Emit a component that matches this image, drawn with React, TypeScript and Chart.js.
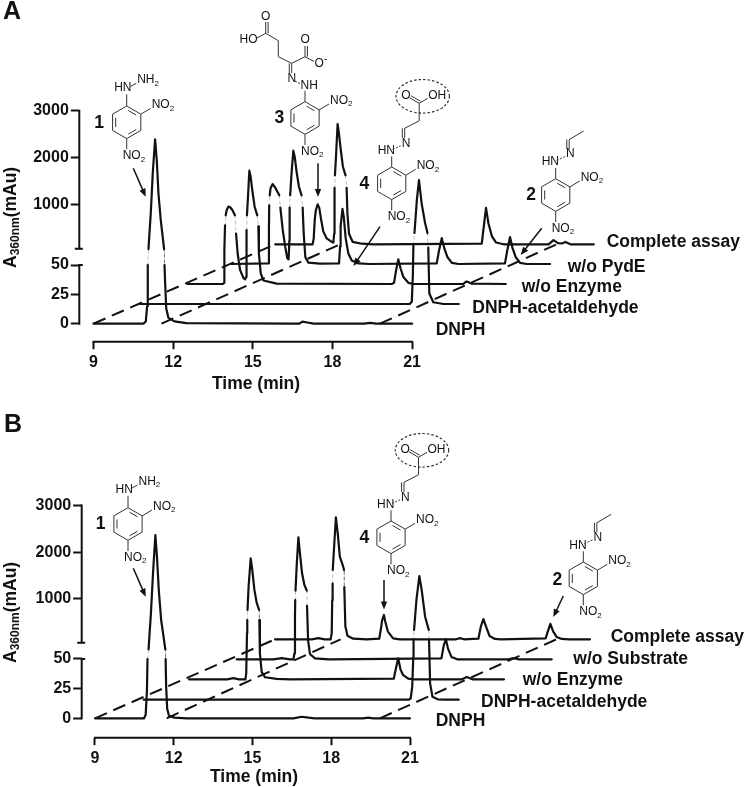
import React, { useEffect, useRef } from "react";
import { Chart, registerables } from "chart.js";

Chart.register(...registerables);

const FONT = '"Liberation Sans", Arial, sans-serif';
const INK = "#111111";

// ---------- tick labels ----------
const xTicks = [9, 12, 15, 18, 21];
const yTickValues = [0, 25, 50, 1000, 2000, 3000];

// ---------- Panel A: retention time (min) / absorbance (mAu) ----------
const aNames = ["DNPH", "DNPH-acetaldehyde", "w/o Enzyme", "w/o PydE", "Complete assay"];

const aDnphTime = [9, 10.88, 10.97, 11.02, 11.044, 11.07, 11.157, 11.232, 11.32, 11.383, 11.446, 11.533, 11.66, 11.675, 11.7, 11.74, 11.82, 12.05, 12.5, 16.5, 16.75, 16.87, 17.05, 17.3, 19.2, 19.42, 19.65, 21];
const aDnphValue = [0, 0, 2, 15, 50, 55, 817, 1668, 2391, 1951, 1243, 674, 55, 50, 34, 13, 5, 2, 0.5, 0, 0, 1.8, 1, 0, 0, 0.7, 0, 0];

const aAcetTime = [9, 19.15, 19.23, 19.27, 19.29, 19.33, 19.42, 19.5, 19.6, 19.73, 19.82, 19.85, 19.89, 20.04, 20.42, 21];
const aAcetValue = [0, 0, 2, 25, 50, 57, 760, 1185, 689, 270, 57, 48, 9, 1.5, 0, 0];

const aEnzTime = [9, 10.34, 10.39, 10.4, 10.425, 10.45, 10.49, 10.55, 10.61, 10.7, 10.8, 10.84, 10.9, 10.99, 11.12, 11.18, 11.22, 11.23, 11.24, 11.25, 11.29, 11.34, 11.39, 11.45, 11.54, 11.64, 11.68, 11.7, 11.77, 11.87, 12.37, 16.7, 16.79, 16.87, 16.95, 17.04, 17.14, 17.33, 17.52, 19.4, 19.47, 19.53, 19.6, 19.7, 21];
const aEnzValue = [0, 0, 1, 29, 50, 51, 164, 234, 228, 164, 51, 43, 26, 12, 5, 4, 6, 26, 46, 51, 447, 1000, 872, 589, 234, 51, 49, 26, 9, 3, 0.3, 0, 1, 12, 21, 13, 6, 1, 0, 0, 1.5, 2.2, 1.5, 0.3, 0];

const aPydeTime = [9, 10.39, 10.41, 10.42, 10.44, 10.47, 10.55, 10.64, 10.73, 10.8, 10.84, 10.93, 11.02, 11.1, 11.15, 11.18, 11.19, 11.21, 11.27, 11.33, 11.38, 11.46, 11.54, 11.64, 11.68, 11.72, 11.78, 11.89, 12.33, 13.05, 13.09, 13.11, 13.18, 13.23, 13.3, 13.4, 13.53, 13.78, 14.2, 16.73, 16.82, 16.92, 17.02, 17.13, 17.3, 17.55, 19.3, 19.39, 19.49, 19.58, 19.7, 19.87, 20.12, 21];
const aPydeValue = [0, 0.5, 30, 50, 51, 200, 291, 221, 128, 51, 48, 29, 15, 5, 4, 20, 48, 51, 589, 1000, 872, 519, 234, 51, 48, 26, 6, 1.2, 0.3, 0.5, 15, 32, 47, 40, 22, 9, 3, 0.5, 0, 0.5, 12, 22, 13, 6, 1, 0, 0.5, 12, 23, 14, 6, 1, 0, 0];

const aFullTime = [9, 10.41, 10.45, 10.49, 10.53, 10.6, 10.66, 10.73, 10.81, 10.94, 11.13, 11.19, 11.22, 11.23, 11.24, 11.25, 11.29, 11.35, 11.4, 11.47, 11.55, 11.65, 11.69, 11.72, 11.78, 11.92, 12.26, 12.7, 16.78, 16.84, 16.94, 17.03, 17.16, 17.32, 17.6, 19.3, 19.48, 19.65, 19.8, 19.93, 20.12, 21];
const aFullValue = [0, 0, 5, 21, 29, 34, 31, 21, 11, 5, 2, 1.5, 9, 32, 48, 51, 447, 1143, 944, 590, 234, 51, 48, 26, 9, 2, 0.5, 0, 0.5, 12, 31, 18, 7, 1.5, 0, 0, 3.5, 1, 0.7, 2, 0, 0];

const aDashTimes = [[9, 9], [11.56, 11.45], [19.79, 19.6]];

// ---------- Panel B ----------
const bNames = ["DNPH", "DNPH-acetaldehyde", "w/o Enzyme", "w/o Substrate", "Complete assay"];

const bDnphTime = [9, 10.87, 10.93, 10.98, 11.0, 11.04, 11.13, 11.21, 11.3, 11.36, 11.43, 11.52, 11.68, 11.69, 11.71, 11.75, 11.82, 12.03, 12.5, 16.56, 16.87, 17.13, 17.38, 19.2, 19.41, 19.6, 21];
const bDnphValue = [0, 0, 3, 24, 50, 51, 822, 1679, 2499, 2035, 1322, 679, 51, 50, 27, 8, 2, 0.6, 0, 0, 1.3, 0.5, 0, 0, 0.5, 0, 0];

const bAcetTime = [9, 19.1, 19.17, 19.23, 19.27, 19.28, 19.3, 19.39, 19.5, 19.59, 19.72, 19.86, 19.87, 19.91, 20.0, 20.2, 20.5, 21];
const bAcetValue = [0, 0, 1, 11, 36, 50, 51, 692, 1205, 906, 334, 51, 50, 14, 2.5, 0.3, 0, 0];

const bEnzTime = [9, 10.45, 10.69, 10.9, 11.15, 11.18, 11.21, 11.22, 11.23, 11.27, 11.35, 11.41, 11.49, 11.58, 11.67, 11.68, 11.7, 11.77, 11.9, 12.34, 12.85, 16.8, 16.89, 16.97, 17.06, 17.16, 17.35, 17.6, 19.4, 19.58, 19.8, 21];
const bEnzValue = [0, 0, 1, 0, 0, 5, 39, 50, 51, 548, 1156, 913, 485, 200, 51, 50, 22, 6, 1.7, 0.3, 0, 0.5, 10, 17.7, 8, 3.5, 0.5, 0, 0, 2, 0, 0];

const bSubTime = [9, 10.4, 10.71, 11.03, 11.16, 11.2, 11.22, 11.23, 11.24, 11.29, 11.35, 11.41, 11.49, 11.58, 11.67, 11.68, 11.72, 11.79, 11.98, 12.5, 16.8, 16.89, 16.97, 17.05, 17.18, 17.4, 19.35, 19.54, 19.75, 21];
const bSubValue = [0, 0, 1, 0, 0, 5, 36, 50, 51, 636, 1193, 850, 422, 171, 51, 45, 16, 4.5, 0.8, 0, 0.8, 12, 16.9, 9, 2, 0, 0, 1, 0, 0];

const bFullTime = [9, 10.4, 10.65, 10.9, 11.12, 11.16, 11.18, 11.195, 11.2, 11.26, 11.32, 11.39, 11.47, 11.58, 11.63, 11.64, 11.68, 11.76, 11.98, 12.5, 12.97, 13.03, 13.08, 13.15, 13.2, 13.3, 13.5, 13.75, 15.9, 16.05, 16.2, 16.75, 16.84, 16.94, 17.04, 17.17, 17.38, 17.6, 19.31, 19.39, 19.49, 19.6, 19.73, 19.92, 20.2, 21];
const bFullValue = [0, 0, 1, 0, 0, 5, 33, 47, 51, 621, 1178, 835, 334, 156, 51, 44, 11, 3, 0.5, 0, 0.5, 8, 16, 20.5, 15, 6.5, 0.8, 0, 0, 1, 0, 0.5, 10.7, 17, 10.7, 2.8, 0.3, 0, 0.8, 6.5, 13, 6.5, 2, 0.3, 0, 0];

const bDashTimes = [[9, 9], [11.73, 11.5], [19.85, 19.72]];

// ---------- helpers ----------
type Seg = [number, number];
type Layout = {
  top: number; height: number; axisX: number; zeroY: number; axisY: number;
  x9: number; pxPerMin: number; lowerK: number; upperBase: number; upperK: number;
  dx: number[]; lowerShift: number[]; upperShift: number[];
};

const layoutA: Layout = {
  top: 0, height: 393, axisX: 79.3, zeroY: 323.7, axisY: 341.7, x9: 93.5, pxPerMin: 26.55,
  lowerK: 1.174, upperBase: 72, upperK: 0.047,
  dx: [0, 46.7, 93.7, 138, 181.7], lowerShift: [0, 19.7, 39.7, 59.7, 79.4], upperShift: [0, 16, 34, 54, 74],
};
const layoutB: Layout = {
  top: 393, height: 394, axisX: 81.7, zeroY: 718.3, axisY: 737.7, x9: 95, pxPerMin: 26.25,
  lowerK: 1.186, upperBase: 72.6, upperK: 0.0467,
  dx: [0, 48.7, 94, 141.7, 180], lowerShift: [0, 18.6, 39, 59, 79], upperShift: [-6, 13.4, 33.4, 52.7, 73.4],
};

function traceDataset(L: Layout, i: number, label: string, times: number[], values: number[]) {
  const pts = times.map((t, k) => {
    const v = values[k];
    const upper = v > 50;
    return {
      x: t + L.dx[i] / L.pxPerMin,
      y: upper ? L.upperBase + L.upperK * v + L.upperShift[i] : v * L.lowerK + L.lowerShift[i],
      upper,
    };
  });
  const crossing = (c: any) => pts[c.p0DataIndex].upper !== pts[c.p1DataIndex].upper;
  return {
    label,
    data: pts,
    borderColor: INK,
    borderWidth: 2.2,
    pointRadius: 0,
    tension: 0,
    borderCapStyle: "round",
    borderJoinStyle: "round",
    segment: {
      borderColor: (c: any) => (crossing(c) ? "rgba(0,0,0,0.25)" : undefined),
      borderWidth: (c: any) => (crossing(c) ? 1 : undefined),
      borderDash: (c: any) => (crossing(c) ? [3, 3] : undefined),
    },
  };
}

function dashDataset(L: Layout, pair: number[], k: number) {
  return {
    label: "guide " + k,
    data: [
      { x: pair[0] + L.dx[0] / L.pxPerMin, y: L.lowerShift[0] },
      { x: pair[1] + L.dx[4] / L.pxPerMin, y: L.lowerShift[4] },
    ],
    borderColor: INK,
    borderWidth: 2,
    borderDash: [13, 7],
    pointRadius: 0,
    tension: 0,
  };
}

function text(ctx: any, s: string, x: number, y: number, font: string, align: any = "left") {
  ctx.font = font;
  ctx.textAlign = align;
  ctx.textBaseline = "middle";
  ctx.fillStyle = INK;
  ctx.fillText(s, x, y);
}

function atom(ctx: any, s: string, sub: string, x: number, y: number) {
  const f = `12px ${FONT}`;
  text(ctx, s, x, y, f);
  const w = ctx.measureText(s).width;
  if (sub) text(ctx, sub, x + w, y + 3.5, `8px ${FONT}`);
}

function bond(ctx: any, a: Seg, b: Seg) {
  ctx.beginPath();
  ctx.moveTo(a[0], a[1]);
  ctx.lineTo(b[0], b[1]);
  ctx.stroke();
}

function ring(ctx: any, cx: number, cy: number) {
  const r = 16.3;
  const v: Seg[] = [];
  for (let k = 0; k < 6; k++) {
    const a = -Math.PI / 2 + (k * Math.PI) / 3;
    v.push([cx + r * Math.cos(a), cy + r * Math.sin(a)]);
  }
  ctx.beginPath();
  v.forEach((p, k) => (k ? ctx.lineTo(p[0], p[1]) : ctx.moveTo(p[0], p[1])));
  ctx.closePath();
  ctx.stroke();
  [[0, 1], [2, 3], [4, 5]].forEach(([m, n]) => {
    const q = (p: Seg, o: Seg): Seg => {
      const s = 0.78;
      const e = [p[0] + (o[0] - p[0]) * 0.14, p[1] + (o[1] - p[1]) * 0.14];
      return [cx + (e[0] - cx) * s, cy + (e[1] - cy) * s];
    };
    bond(ctx, q(v[m], v[n]), q(v[n], v[m]));
  });
}

function dinitro(ctx: any, cx: number, cy: number) {
  ring(ctx, cx, cy);
  bond(ctx, [cx + 14.1, cy - 8.1], [cx + 24, cy - 14]);
  atom(ctx, "NO", "2", cx + 25, cy - 17.5);
  bond(ctx, [cx, cy + 16.3], [cx, cy + 27]);
  atom(ctx, "NO", "2", cx - 4, cy + 33.5);
}

function doubleBond(ctx: any, a: Seg, b: Seg, off = 2.4) {
  const dx = b[0] - a[0], dy = b[1] - a[1], l = Math.hypot(dx, dy);
  const nx = (-dy / l) * off, ny = (dx / l) * off;
  bond(ctx, a, b);
  bond(ctx, [a[0] + nx, a[1] + ny], [b[0] + nx, b[1] + ny]);
}

function compound1(ctx: any, cx: number, cy: number) {
  dinitro(ctx, cx, cy);
  bond(ctx, [cx, cy - 16.3], [cx, cy - 28]);
  atom(ctx, "HN", "", cx - 12.5, cy - 34.7);
  bond(ctx, [cx + 4, cy - 36], [cx + 9.5, cy - 39]);
  atom(ctx, "NH", "2", cx + 10.5, cy - 42.5);
}

function compound2(ctx: any, cx: number, cy: number) {
  dinitro(ctx, cx, cy);
  bond(ctx, [cx, cy - 16.3], [cx, cy - 27]);
  atom(ctx, "HN", "", cx - 14, cy - 33);
  ctx.setLineDash([2, 1.5]);
  bond(ctx, [cx + 1, cy - 34.5], [cx + 9.5, cy - 38.5]);
  ctx.setLineDash([]);
  atom(ctx, "N", "", cx + 10.2, cy - 41);
  doubleBond(ctx, [cx + 13.5, cy - 55.5], [cx + 13.5, cy - 46]);
  bond(ctx, [cx + 13.5, cy - 55.5], [cx + 28, cy - 64]);
}

function compound4(ctx: any, cx: number, cy: number) {
  dinitro(ctx, cx, cy);
  bond(ctx, [cx, cy - 16.3], [cx, cy - 27]);
  atom(ctx, "HN", "", cx - 14, cy - 32.5);
  ctx.setLineDash([2, 1.5]);
  bond(ctx, [cx + 1, cy - 34], [cx + 9, cy - 37.5]);
  ctx.setLineDash([]);
  atom(ctx, "N", "", cx + 10, cy - 40);
  doubleBond(ctx, [cx + 13, cy - 55], [cx + 13, cy - 45.5]);
  bond(ctx, [cx + 13, cy - 55], [cx + 27.5, cy - 62.5]);
  bond(ctx, [cx + 27.5, cy - 62.5], [cx + 27.5, cy - 80]);
  doubleBond(ctx, [cx + 27.5, cy - 80], [cx + 18, cy - 85.5]);
  atom(ctx, "O", "", cx + 9.5, cy - 88);
  bond(ctx, [cx + 27.5, cy - 80], [cx + 36, cy - 85]);
  atom(ctx, "OH", "", cx + 36.5, cy - 87.5);
  ctx.save();
  ctx.setLineDash([2.5, 2]);
  ctx.lineWidth = 1.2;
  ctx.beginPath();
  ctx.ellipse(cx + 31, cy - 87, 26.7, 16.8, 0, 0, Math.PI * 2);
  ctx.stroke();
  ctx.restore();
}

function compound3(ctx: any) {
  dinitro(ctx, 305, 118);
  bond(ctx, [305, 101.7], [305, 91]);
  atom(ctx, "NH", "", 300.5, 86);
  ctx.setLineDash([2, 1.5]);
  bond(ctx, [295, 81], [301, 84]);
  ctx.setLineDash([]);
  atom(ctx, "N", "", 287.5, 78.3);
  doubleBond(ctx, [291.7, 63.3], [291.7, 73]);
  bond(ctx, [291.7, 63.3], [278.3, 56.7]);
  bond(ctx, [278.3, 56.7], [278.3, 40.7]);
  bond(ctx, [278.3, 40.7], [265.7, 33.3]);
  doubleBond(ctx, [265.7, 33.3], [265.7, 22]);
  atom(ctx, "O", "", 261, 16.7);
  bond(ctx, [265.7, 33.3], [257, 38]);
  atom(ctx, "HO", "", 239.5, 40);
  bond(ctx, [291.7, 63.3], [305, 56.7]);
  doubleBond(ctx, [305, 56.7], [305, 46]);
  atom(ctx, "O", "", 300.5, 40);
  bond(ctx, [305, 56.7], [314, 61.5]);
  atom(ctx, "O", "", 314.5, 63.3);
  text(ctx, "-", 324, 59, `10px ${FONT}`);
}

function arrow(ctx: any, x0: number, y0: number, x1: number, y1: number) {
  const a = Math.atan2(y1 - y0, x1 - x0);
  ctx.save();
  ctx.strokeStyle = INK;
  ctx.fillStyle = INK;
  ctx.lineWidth = 1.5;
  bond(ctx, [x0, y0], [x1 - 5 * Math.cos(a), y1 - 5 * Math.sin(a)]);
  ctx.beginPath();
  ctx.moveTo(x1, y1);
  ctx.lineTo(x1 - 8 * Math.cos(a) + 3.2 * Math.sin(a), y1 - 8 * Math.sin(a) - 3.2 * Math.cos(a));
  ctx.lineTo(x1 - 8 * Math.cos(a) - 3.2 * Math.sin(a), y1 - 8 * Math.sin(a) + 3.2 * Math.cos(a));
  ctx.closePath();
  ctx.fill();
  ctx.restore();
}

function yTitle(ctx: any, bottomY: number, x: number) {
  ctx.save();
  ctx.translate(x, bottomY);
  ctx.rotate(-Math.PI / 2);
  ctx.font = `bold 17.5px ${FONT}`;
  ctx.textAlign = "left";
  ctx.textBaseline = "alphabetic";
  ctx.fillStyle = INK;
  ctx.fillText("A", 0, 0);
  let w = ctx.measureText("A").width;
  ctx.font = `bold 12px ${FONT}`;
  ctx.fillText("360nm", w, 3.5);
  w += ctx.measureText("360nm").width;
  ctx.font = `bold 17.5px ${FONT}`;
  ctx.fillText("(mAu)", w, 0);
  ctx.restore();
}

function makeChart(canvas: HTMLCanvasElement, L: Layout, datasets: any[], overlay: (ctx: any) => void) {
  const chartW = 745;
  const bottomH = L.top + L.height - L.axisY;
  const uTicks = yTickValues.map((v) => (v <= 50 ? v * L.lowerK : L.upperBase + L.upperK * v));
  const axesPlugin = {
    id: "brokenAxes",
    afterDraw(chart: any) {
      const ctx = chart.ctx;
      const sx = chart.scales.x, sy = chart.scales.y;
      const lx = sx.left;
      ctx.save();
      ctx.strokeStyle = INK;
      ctx.lineWidth = 2;
      ctx.lineCap = "butt";
      const by = chart.chartArea.bottom;
      ctx.beginPath();
      ctx.moveTo(sx.getPixelForValue(xTicks[0]) - 1, by);
      ctx.lineTo(sx.getPixelForValue(xTicks[xTicks.length - 1]) + 1, by);
      const u50 = uTicks[2];
      const uBreak = u50 + 16.3;
      ctx.moveTo(lx, sy.getPixelForValue(0) + 1);
      ctx.lineTo(lx, sy.getPixelForValue(u50) - 1);
      ctx.moveTo(lx, sy.getPixelForValue(uBreak));
      ctx.lineTo(lx, sy.getPixelForValue(uTicks[5]) - 1);
      ctx.moveTo(lx, sy.getPixelForValue(u50));
      ctx.lineTo(lx + 3.5, sy.getPixelForValue(u50));
      ctx.moveTo(lx - 4.5, sy.getPixelForValue(uBreak));
      ctx.lineTo(lx + 3.5, sy.getPixelForValue(uBreak));
      ctx.stroke();
      ctx.restore();
      ctx.save();
      ctx.translate(0, -L.top);
      ctx.strokeStyle = "#333333";
      ctx.lineWidth = 1;
      ctx.lineCap = "butt";
      overlay(ctx);
      ctx.restore();
    },
  };
  return new Chart(canvas, {
    type: "line",
    data: { datasets },
    plugins: [axesPlugin],
    options: {
      animation: false,
      responsive: false,
      layout: { padding: 0 },
      plugins: { legend: { display: false }, tooltip: { enabled: false }, title: { display: false } },
      scales: {
        x: {
          type: "linear",
          min: 9 - (L.x9 - L.axisX) / L.pxPerMin,
          max: 9 + (chartW - L.x9) / L.pxPerMin,
          afterFit: (s: any) => { s.height = bottomH; s.paddingLeft = 0; s.paddingRight = 0; },
          afterBuildTicks: (s: any) => { s.ticks = xTicks.map((value) => ({ value })); },
          border: { display: false },
          grid: { drawOnChartArea: false, drawTicks: true, tickLength: 7.5, tickWidth: 2, tickColor: INK },
          ticks: { color: INK, padding: 4, maxRotation: 0, autoSkip: false, font: { family: FONT, size: 16, weight: "bold" } },
        },
        y: {
          type: "linear",
          min: L.zeroY - L.axisY,
          max: L.zeroY - L.top,
          afterFit: (s: any) => { s.width = L.axisX; s.paddingTop = 0; s.paddingBottom = 0; },
          afterBuildTicks: (s: any) => { s.ticks = uTicks.map((value) => ({ value })); },
          border: { display: false },
          grid: { drawOnChartArea: false, drawTicks: true, tickLength: 8.5, tickWidth: 2, tickColor: INK },
          ticks: {
            color: INK,
            padding: 2,
            autoSkip: false,
            font: { family: FONT, size: 16, weight: "bold" },
            callback: (_v: any, i: number) => String(yTickValues[i]),
          },
        },
      },
    } as any,
  } as any);
}

const BOLD = `bold 17.5px ${FONT}`;

function overlayA(ctx: any) {
  text(ctx, "A", 3, 12, `bold 25px ${FONT}`);
  text(ctx, "Time (min)", 256, 384, `bold 17.5px ${FONT}`, "center");
  yTitle(ctx, 268, 15.5);
  compound1(ctx, 126.7, 122.3);
  compound3(ctx);
  compound4(ctx, 391.7, 183.3);
  compound2(ctx, 555.7, 195);
  text(ctx, "1", 99, 123, BOLD, "center");
  text(ctx, "3", 279.3, 118, BOLD, "center");
  text(ctx, "4", 364.3, 184, BOLD, "center");
  text(ctx, "2", 531, 195, BOLD, "center");
  arrow(ctx, 133.3, 168.3, 145.7, 196.7);
  arrow(ctx, 318, 163.3, 318, 197);
  arrow(ctx, 380, 226.7, 353.5, 266);
  arrow(ctx, 541.7, 228.3, 520.7, 255);
  text(ctx, "Complete assay", 606.7, 242.3, BOLD);
  text(ctx, "w/o PydE", 567.7, 266.7, BOLD);
  text(ctx, "w/o Enzyme", 521.7, 286.7, BOLD);
  text(ctx, "DNPH-acetaldehyde", 472.3, 308.3, BOLD);
  text(ctx, "DNPH", 435.7, 330, BOLD);
}

function overlayB(ctx: any) {
  text(ctx, "B", 4, 425, `bold 25px ${FONT}`);
  text(ctx, "Time (min)", 254, 776.7, `bold 17.5px ${FONT}`, "center");
  yTitle(ctx, 663, 15.5);
  compound1(ctx, 128, 524);
  compound4(ctx, 391, 537.3);
  compound2(ctx, 583.3, 578.3);
  text(ctx, "1", 100.7, 524.3, BOLD, "center");
  text(ctx, "4", 364.3, 538.3, BOLD, "center");
  text(ctx, "2", 557.3, 580, BOLD, "center");
  arrow(ctx, 133.3, 568.3, 145.7, 596.7);
  arrow(ctx, 384, 580, 384, 609.5);
  arrow(ctx, 563.3, 596, 553.3, 617);
  text(ctx, "Complete assay", 610.7, 636.7, BOLD);
  text(ctx, "w/o Substrate", 573.3, 659.3, BOLD);
  text(ctx, "w/o Enzyme", 522.7, 680, BOLD);
  text(ctx, "DNPH-acetaldehyde", 481, 701.7, BOLD);
  text(ctx, "DNPH", 435.7, 721, BOLD);
}

export default function App() {
  const aRef = useRef<HTMLCanvasElement>(null);
  const bRef = useRef<HTMLCanvasElement>(null);
  useEffect(() => {
    const aTraces = [
      traceDataset(layoutA, 0, aNames[0], aDnphTime, aDnphValue),
      traceDataset(layoutA, 1, aNames[1], aAcetTime, aAcetValue),
      traceDataset(layoutA, 2, aNames[2], aEnzTime, aEnzValue),
      traceDataset(layoutA, 3, aNames[3], aPydeTime, aPydeValue),
      traceDataset(layoutA, 4, aNames[4], aFullTime, aFullValue),
      ...aDashTimes.map((p, k) => dashDataset(layoutA, p, k)),
    ];
    const bTraces = [
      traceDataset(layoutB, 0, bNames[0], bDnphTime, bDnphValue),
      traceDataset(layoutB, 1, bNames[1], bAcetTime, bAcetValue),
      traceDataset(layoutB, 2, bNames[2], bEnzTime, bEnzValue),
      traceDataset(layoutB, 3, bNames[3], bSubTime, bSubValue),
      traceDataset(layoutB, 4, bNames[4], bFullTime, bFullValue),
      ...bDashTimes.map((p, k) => dashDataset(layoutB, p, k)),
    ];
    const a = makeChart(aRef.current!, layoutA, aTraces, overlayA);
    const b = makeChart(bRef.current!, layoutB, bTraces, overlayB);
    return () => { a.destroy(); b.destroy(); };
  }, []);
  return (
    <div style={{ position: "absolute", left: 0, top: 0, width: 745, height: 787, background: "#fff", overflow: "hidden" }}>
      <canvas ref={aRef} width={745} height={393} style={{ display: "block" }} />
      <canvas ref={bRef} width={745} height={394} style={{ display: "block" }} />
    </div>
  );
}
